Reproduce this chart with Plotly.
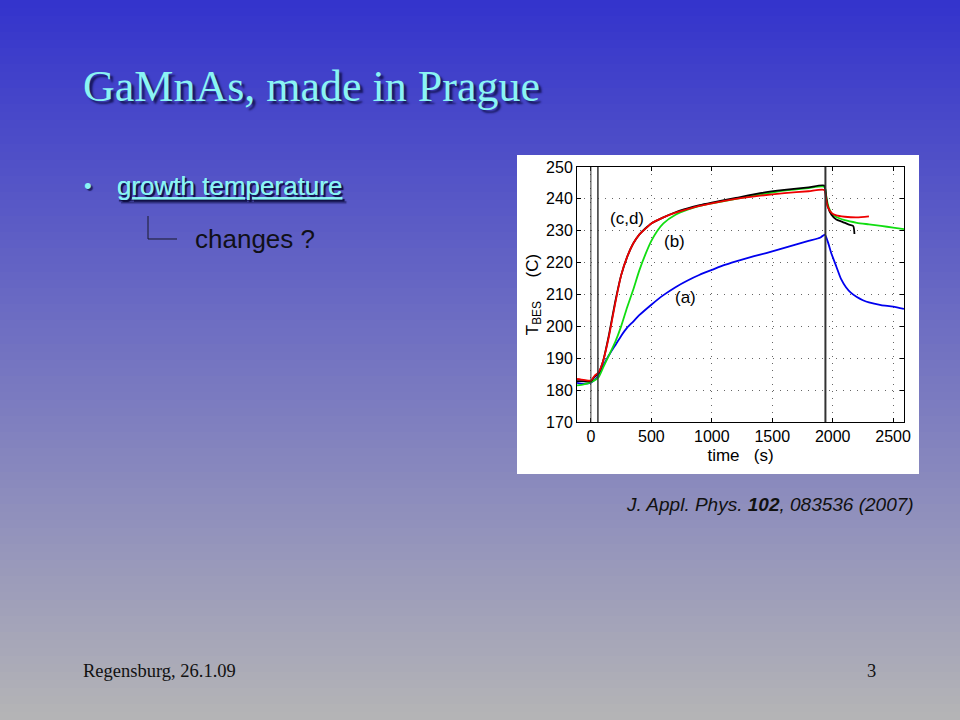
import plotly.graph_objects as go

W, H = 960, 720

# ---------------- data ----------------
t_a = [-115, -60, 0, 62, 100, 150, 200, 250, 300, 350, 400, 500, 600, 700, 800, 900, 1000,
       1100, 1200, 1300, 1400, 1500, 1600, 1700, 1800, 1900, 1935, 1960, 1990, 2030, 2070,
       2110, 2150, 2200, 2250, 2300, 2400, 2500, 2590]
T_a = [182.3, 182.0, 182.3, 184.5, 187.5, 191.0, 194.0, 197.0, 199.6, 201.5, 203.5, 206.8,
       209.8, 212.3, 214.4, 216.2, 217.7, 219.2, 220.4, 221.5, 222.5, 223.5, 224.6, 225.7,
       226.8, 227.9, 228.8, 226.5, 222.8, 218.8, 214.8, 212.3, 210.6, 209.2, 208.2, 207.5,
       206.7, 206.2, 205.5]

t_b = [-115, -60, 0, 62, 100, 150, 200, 250, 300, 350, 400, 450, 500, 550, 600, 700, 800,
       900, 1000, 1200, 1400, 1600, 1800, 1930, 1950, 1970, 2000, 2050, 2100, 2200, 2300,
       2400, 2500, 2590]
T_b = [181.5, 181.8, 182.5, 184.0, 187.0, 191.0, 195.0, 200.0, 206.0, 211.5, 217.5, 222.5,
       226.8, 230.0, 232.3, 235.0, 236.6, 237.8, 238.6, 240.0, 241.4, 242.6, 243.4, 243.8,
       240.0, 237.0, 235.0, 234.0, 233.3, 232.5, 232.0, 231.5, 231.0, 230.5]

t_c = [-115, -60, 0, 30, 62, 100, 150, 200, 250, 300, 350, 400, 450, 500, 600, 700, 800,
       900, 1000, 1200, 1400, 1600, 1800, 1930, 1945, 1960, 1990, 2030, 2080, 2130, 2170,
       2180]
T_c = [182.8, 182.8, 182.8, 184.2, 185.3, 189.0, 197.5, 207.5, 216.0, 221.8, 226.0, 228.8,
       230.7, 232.3, 234.2, 235.8, 237.0, 238.0, 238.8, 240.3, 241.8, 242.8, 243.6, 244.2,
       241.0, 237.5, 235.0, 233.5, 232.8, 232.0, 231.5, 229.0]

t_d = [-115, -60, 0, 30, 62, 100, 150, 200, 250, 300, 350, 400, 450, 500, 600, 700, 800,
       900, 1000, 1200, 1400, 1600, 1800, 1930, 1945, 1960, 1990, 2030, 2100, 2200, 2300]
T_d = [183.5, 183.2, 183.0, 184.5, 185.5, 189.0, 197.0, 207.0, 216.0, 221.8, 226.0, 228.8,
       230.6, 232.3, 234.2, 235.7, 236.8, 237.8, 238.6, 240.0, 241.0, 241.8, 242.4, 242.8,
       240.0, 237.5, 235.6, 234.8, 234.4, 234.2, 234.5]

series_names = ["(a)", "(b)", "(c)", "(d)"]
series_colors = ["#0000ee", "#11dd11", "#000000", "#ee0000"]

event_times = [0, 58, 1940]
event_widths = [1.0, 1.5, 2.0]

label_text = ["(c,d)", "(b)", "(a)"]
label_t = [295, 694, 779]
label_T = [233.8, 226.5, 209.2]

x_ticks = [0, 500, 1000, 1500, 2000, 2500]
y_ticks = [170, 180, 190, 200, 210, 220, 230, 240, 250]
x_range = [-115, 2590]
y_range = [170, 250]

# ---------------- helpers ----------------
def px(x):
    return x / W

def py(y):
    return 1 - y / H

fig = go.Figure()

for t, T, name, col in zip([t_a, t_b, t_c, t_d], [T_a, T_b, T_c, T_d], series_names, series_colors):
    fig.add_trace(go.Scatter(x=t, y=T, mode="lines", name=name,
                             line=dict(color=col, width=1.8, shape="spline", smoothing=0.6),
                             showlegend=False, hoverinfo="skip"))

for t, w in zip(event_times, event_widths):
    fig.add_vline(x=t, line=dict(color="#333333", width=w), layer="above")

for txt, t, T in zip(label_text, label_t, label_T):
    fig.add_annotation(x=t, y=T, xref="x", yref="y", text=txt, showarrow=False,
                       font=dict(family="Liberation Sans, Arial", size=17, color="#000"))

# ---------------- background gradient ----------------
shapes = []
top = (52, 52, 204)
bot = (180, 180, 182)
n = 90
for i in range(n):
    f = i / (n - 1)
    c = tuple(int(round(top[k] + (bot[k] - top[k]) * f)) for k in range(3))
    y_top = -20 if i == 0 else i * H / n
    y_bot = H + 20 if i == n - 1 else (i + 1) * H / n + 0.5
    shapes.append(dict(type="rect", xref="paper", yref="paper", layer="below",
                       x0=-0.05, x1=1.05, y0=py(y_bot), y1=py(y_top),
                       line=dict(width=0), fillcolor="rgb(%d,%d,%d)" % c))
# white chart panel
shapes.append(dict(type="rect", xref="paper", yref="paper", layer="below",
                   x0=px(517), x1=px(919), y0=py(474), y1=py(155),
                   line=dict(width=0), fillcolor="white"))
# connector for sub bullet
shapes.append(dict(type="path", xref="paper", yref="paper", layer="above",
                   path="M %f %f L %f %f L %f %f" % (px(148), py(216), px(148), py(239), px(177), py(239)),
                   line=dict(color="#1a1a2a", width=1)))
for s in shapes:
    fig.add_shape(**s)

# ---------------- slide texts ----------------
cyan = "#8af4f4"
fig.add_annotation(xref="paper", yref="paper", x=px(81), y=py(86), xanchor="left", yanchor="middle",
                   text="GaMnAs, made in Prague", showarrow=False,
                   font=dict(family="Liberation Serif, Times New Roman", size=44, color=cyan,
                             shadow="3px 3px 2px rgba(10,10,60,0.75)"))
fig.add_annotation(xref="paper", yref="paper", x=px(82), y=py(186), xanchor="left", yanchor="middle",
                   text="•", showarrow=False,
                   font=dict(family="Liberation Sans, Arial", size=22, color=cyan,
                             shadow="2px 2px 1px rgba(10,10,60,0.7)"))
fig.add_annotation(xref="paper", yref="paper", x=px(115), y=py(186), xanchor="left", yanchor="middle",
                   text="<u>growth temperature</u>", showarrow=False,
                   font=dict(family="Liberation Sans, Arial", size=26, color=cyan,
                             shadow="2px 2px 1px rgba(10,10,60,0.7)"))
fig.add_annotation(xref="paper", yref="paper", x=px(193), y=py(239), xanchor="left", yanchor="middle",
                   text="changes ?", showarrow=False,
                   font=dict(family="Liberation Sans, Arial", size=26, color="#101018"))
fig.add_annotation(xref="paper", yref="paper", x=px(916), y=py(505), xanchor="right", yanchor="middle",
                   text="<i>J. Appl. Phys. <b>102</b>, 083536 (2007)</i>", showarrow=False,
                   font=dict(family="Liberation Sans, Arial", size=19, color="#111111"))
fig.add_annotation(xref="paper", yref="paper", x=px(81), y=py(671), xanchor="left", yanchor="middle",
                   text="Regensburg, 26.1.09", showarrow=False,
                   font=dict(family="Liberation Serif, Times New Roman", size=18.5, color="#111111"))
fig.add_annotation(xref="paper", yref="paper", x=px(878), y=py(671), xanchor="right", yanchor="middle",
                   text="3", showarrow=False,
                   font=dict(family="Liberation Serif, Times New Roman", size=18.5, color="#111111"))

axis_common = dict(showline=True, linecolor="black", linewidth=1, mirror="allticks",
                   ticks="inside", ticklen=4, tickcolor="black", automargin=False,
                   showgrid=True, gridcolor="#666666", gridwidth=1, griddash="1px,6px",
                   zeroline=False, tickfont=dict(family="Liberation Sans, Arial", size=16, color="black"))

fig.update_layout(
    width=W, height=H,
    margin=dict(l=0, r=0, t=0, b=0, pad=0, autoexpand=False),
    paper_bgcolor="#8080c0",
    plot_bgcolor="rgba(0,0,0,0)",
    showlegend=False,
    xaxis=dict(domain=[px(577), px(904)], range=x_range, tickvals=x_ticks,
               title=dict(text="time   (s)", standoff=4,
                          font=dict(family="Liberation Sans, Arial", size=17, color="black")),
               **axis_common),
    yaxis=dict(domain=[py(422), py(167)], range=y_range, tickvals=y_ticks,
               title=dict(text="T<sub>BES</sub>     (C)", standoff=3,
                          font=dict(family="Liberation Sans, Arial", size=17, color="black")),
               **axis_common),
)

fig.write_html("out.html", config={"displayModeBar": False},
               post_script="document.body.style.margin='0';document.body.style.overflow='hidden';")
